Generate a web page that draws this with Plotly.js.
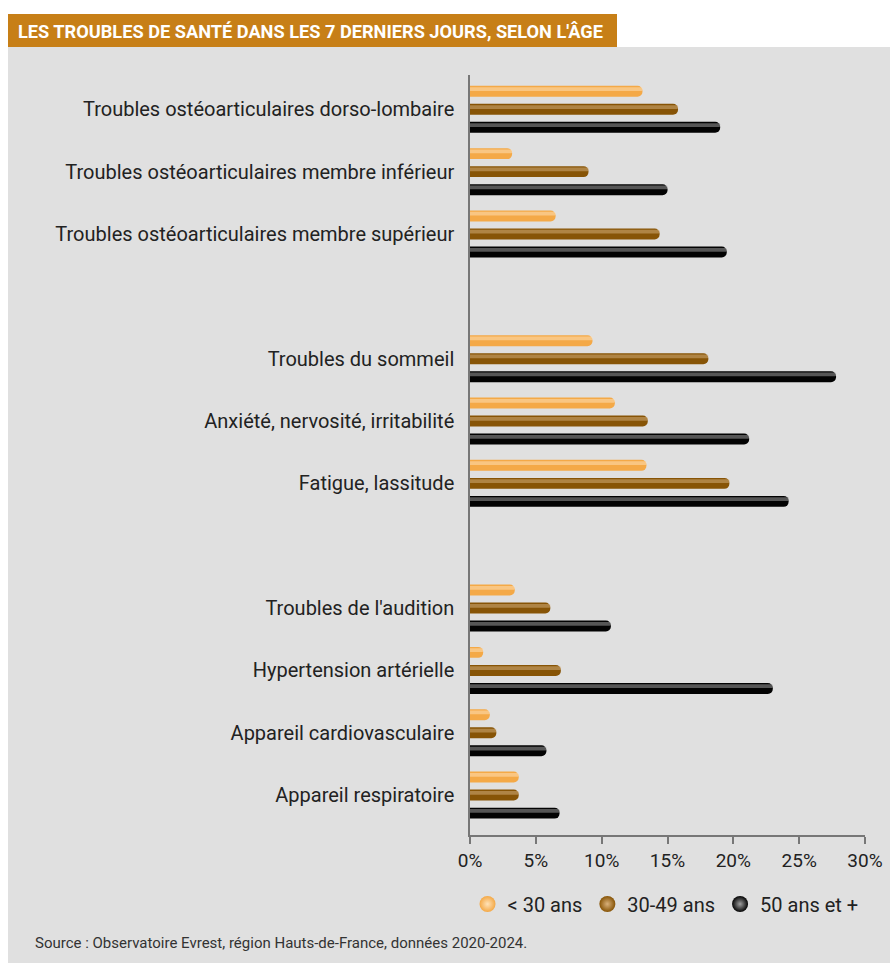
<!DOCTYPE html>
<html>
<head>
<meta charset="utf-8">
<script src="https://cdn.plot.ly/plotly-3.0.1.min.js"></script>
<style>
  html, body { margin: 0; padding: 0; background: #ffffff; }
  #chart { width: 890px; height: 963px; }
</style>
</head>
<body>
<div id="chart"></div>
<script>
// ---- Data ----
const categories = [
  "Troubles ostéoarticulaires dorso-lombaire",
  "Troubles ostéoarticulaires membre inférieur",
  "Troubles ostéoarticulaires membre supérieur",
  "Troubles du sommeil",
  "Anxiété, nervosité, irritabilité",
  "Fatigue, lassitude",
  "Troubles de l'audition",
  "Hypertension artérielle",
  "Appareil cardiovasculaire",
  "Appareil respiratoire"
];
const seriesNames = ["< 30 ans", "30-49 ans", "50 ans et +"];
const under30  = [13.1, 3.2, 6.5, 9.3, 11.0, 13.4, 3.4, 1.0, 1.5, 3.7];
const age30_49 = [15.8, 9.0, 14.4, 18.1, 13.5, 19.7, 6.1, 6.9, 2.0, 3.7];
const over50   = [19.0, 15.0, 19.5, 27.8, 21.2, 24.2, 10.7, 23.0, 5.8, 6.8];
const tickValues = [0, 5, 10, 15, 20, 25, 30];
const tickLabels = ["0%", "5%", "10%", "15%", "20%", "25%", "30%"];
const titleText = "LES TROUBLES DE SANTÉ DANS LES 7 DERNIERS JOURS, SELON L'ÂGE";
const sourceText = "Source : Observatoire Evrest, région Hauts-de-France, données 2020-2024.";

// category order with blank spacer rows between the groups
const categoryOrder = [].concat(categories.slice(0, 3), [" "], categories.slice(3, 6), ["  "], categories.slice(6));

const colors = ["#f4a947", "#875406", "#030303"];
const highlightColors = ["#ffe3bd", "#d8b483", "#a8a8a8"];
const lightColors = ["#ffe2b8", "#d8b07a", "#a0a0a0"];
const values = [under30, age30_49, over50];

const font = "Roboto, 'Open Sans', sans-serif";

// bar geometry (category units): thickness and spacing within a row
const barW = 0.176, barStep = 0.289;

const traces = [];
values.forEach((v, i) => {
  const off = (i - 1) * barStep - barW / 2;
  traces.push({
    type: "bar",
    orientation: "h",
    y: categories,
    x: v,
    name: seriesNames[i],
    showlegend: false,
    width: barW,
    offset: off,
    marker: { color: colors[i], cornerradius: 6, line: { width: 0 } },
    hoverinfo: "skip"
  });
  // top highlight stripe giving the tube-like shading
  traces.push({
    type: "bar",
    orientation: "h",
    y: categories,
    x: v,
    name: seriesNames[i] + " reflet",
    showlegend: false,
    width: 0.06,
    offset: off + 0.022,
    opacity: 0.5,
    marker: { color: highlightColors[i], cornerradius: 2, line: { width: 0 } },
    hoverinfo: "skip"
  });
});
values.forEach((v, i) => {
  traces.push({
    type: "scatter",
    mode: "markers",
    x: [null],
    y: [null],
    name: seriesNames[i],
    showlegend: true,
    marker: {
      color: colors[i],
      size: 18,
      symbol: "circle",
      gradient: { type: "radial", color: lightColors[i] },
      line: { width: 0 }
    },
    hoverinfo: "skip"
  });
});

// pixel -> paper helpers (plot area x: 470..865, y: 75..835)
const L = 470, R = 865, T = 75, B = 835;
const px = x => (x - L) / (R - L);
const py = y => (B - y) / (B - T);

const layout = {
  width: 890,
  height: 963,
  margin: { l: L, r: 890 - R, t: T, b: 963 - B, pad: 0 },
  paper_bgcolor: "#ffffff",
  plot_bgcolor: "rgba(0,0,0,0)",
  barmode: "overlay",
  font: { family: font, color: "#222222", size: 19 },
  xaxis: {
    range: [0, 30],
    tickmode: "array",
    tickvals: tickValues,
    ticktext: tickLabels,
    showgrid: false,
    zeroline: false,
    showline: true,
    linecolor: "#777777",
    linewidth: 1.5,
    ticks: "outside",
    ticklen: 7,
    tickwidth: 1.5,
    tickcolor: "#777777",
    tickfont: { family: font, size: 19, color: "#222222" },
    fixedrange: true
  },
  yaxis: {
    type: "category",
    categoryorder: "array",
    categoryarray: categoryOrder,
    range: [11.64, -0.55],
    showgrid: false,
    zeroline: false,
    showline: true,
    linecolor: "#777777",
    linewidth: 1.5,
    ticks: "",
    ticklabelstandoff: 10,
    tickfont: { family: font, size: 20, color: "#222222" },
    fixedrange: true
  },
  legend: {
    orientation: "h",
    x: 0.495,
    xanchor: "center",
    y: py(904),
    yanchor: "middle",
    font: { family: font, size: 20, color: "#222222" },
    bgcolor: "rgba(0,0,0,0)",
    itemclick: false,
    itemdoubleclick: false
  },
  shapes: [
    {
      type: "rect", xref: "paper", yref: "paper", layer: "below",
      x0: px(8), x1: px(890), y0: py(963), y1: py(47),
      fillcolor: "#e0e0e0", line: { width: 0 }
    },
    {
      type: "rect", xref: "paper", yref: "paper", layer: "below",
      x0: px(8), x1: px(617), y0: py(47), y1: py(14),
      fillcolor: "#c77f17", line: { width: 0 }
    }
  ],
  annotations: [
    {
      xref: "paper", yref: "paper", x: px(16), y: py(31),
      xanchor: "left", yanchor: "middle", showarrow: false,
      text: "<b>" + titleText + "</b>",
      font: { family: font, size: 18.2, color: "#ffffff" }
    },
    {
      xref: "paper", yref: "paper", x: px(33), y: py(943),
      xanchor: "left", yanchor: "middle", showarrow: false,
      text: sourceText,
      font: { family: font, size: 15, color: "#333333" }
    }
  ]
};

Plotly.newPlot("chart", traces, layout, { displayModeBar: false, staticPlot: false });
</script>
</body>
</html>
